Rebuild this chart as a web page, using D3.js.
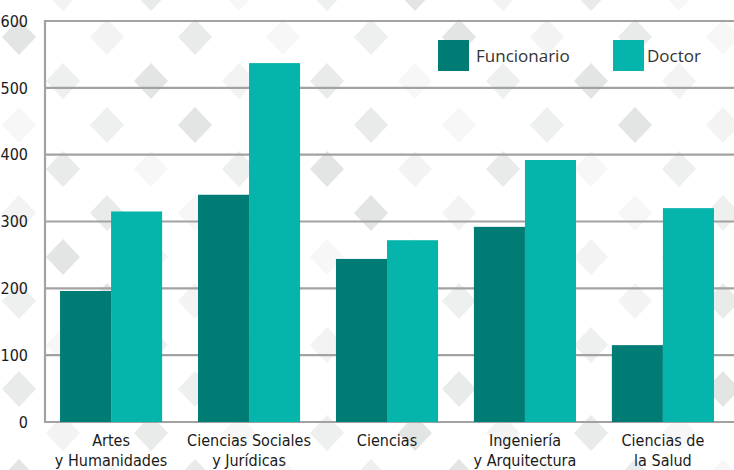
<!DOCTYPE html>
<html><head><meta charset="utf-8">
<script src="https://cdn.jsdelivr.net/npm/d3@7"></script>
<style>
html,body{margin:0;padding:0;background:#fff;}
svg{display:block;}
</style></head>
<body>
<svg id="chart" width="734" height="470"></svg>
<script>
const categories = [["Artes","y Humanidades"],["Ciencias Sociales","y Jurídicas"],["Ciencias",""],["Ingeniería","y Arquitectura"],["Ciencias de","la Salud"]];
const seriesNames = ["Funcionario","Doctor"];
const funcionario = [196, 340, 244, 292, 115];
const doctor = [315, 537, 272, 392, 320];
const yTicks = [0,100,200,300,400,500,600];

const colors = {Funcionario:"#017c75", Doctor:"#05b4aa"};
const W = 734, H = 470;
const svg = d3.select("#chart");

// decorative diamond background
const shades = ["#e3e4e4","#e9eaea","#eeefef","#f3f3f3","#f7f7f7"];
const bg = svg.append("g");
for (let k=-1;k<=10;k++){
  const yc = 37 + 44*k;
  for (let j=-1;j<=9;j++){
    const xc = 19 + 88*j + ((k%2+2)%2 ? 44 : 0);
    const s = shades[((j*3 + k*2) % 5 + 5) % 5];
    bg.append("path")
      .attr("d", `M${xc},${yc-18}L${xc+17},${yc}L${xc},${yc+18}L${xc-17},${yc}Z`)
      .attr("fill", s);
  }
}

const y = d3.scaleLinear().domain([0,600]).range([422,21]);
const x0 = d3.scaleBand().domain(d3.range(categories.length)).range([45,729]).paddingInner(0.26).paddingOuter(0.109);
const x1 = d3.scaleBand().domain(seriesNames).range([0,x0.bandwidth()]);

// gridlines
const grid = svg.append("g");
grid.selectAll("line").data(yTicks).join("line")
  .attr("x1",45).attr("x2",W)
  .attr("y1",d=>y(d)).attr("y2",d=>y(d))
  .attr("stroke","#a2a2a2").attr("stroke-width",2.2);
grid.append("line").attr("x1",45).attr("x2",45).attr("y1",y(600)-1).attr("y2",y(0)+1)
  .attr("stroke","#a2a2a2").attr("stroke-width",2.2);

// y labels
svg.append("g").selectAll("text").data(yTicks).join("text")
  .attr("x",28).attr("y",d=>y(d)).attr("dy","0.36em")
  .attr("text-anchor","end")
  .style("font-family","'Liberation Sans Narrow','DejaVu Sans Condensed',sans-serif")
  .style("font-size","16px").attr("fill","#1a1a1a")
  .text(d=>d);

// bars
const data = categories.map((c,i)=>({i, vals:[{k:"Funcionario",v:funcionario[i]},{k:"Doctor",v:doctor[i]}]}));
const groups = svg.append("g").selectAll("g").data(data).join("g")
  .attr("transform",d=>`translate(${x0(d.i)},0)`);
groups.selectAll("rect").data(d=>d.vals).join("rect")
  .attr("x",d=>x1(d.k)).attr("width",x1.bandwidth())
  .attr("y",d=>y(d.v)).attr("height",d=>y(0)-y(d.v))
  .attr("fill",d=>colors[d.k]);

// x labels
const xl = svg.append("g");
categories.forEach((c,i)=>{
  const t = xl.append("text")
    .attr("x", x0(i)+x0.bandwidth()/2).attr("y",446)
    .attr("text-anchor","middle")
    .style("font-family","'Liberation Sans Narrow','DejaVu Sans Condensed',sans-serif")
    .style("font-size","16px").attr("fill","#1a1a1a");
  t.append("tspan").attr("x",x0(i)+x0.bandwidth()/2).attr("y",446).text(c[0]);
  if (c[1]) t.append("tspan").attr("x",x0(i)+x0.bandwidth()/2).attr("y",466).text(c[1]);
});

// legend
const legX = [438, 613];
const leg = svg.append("g");
seriesNames.forEach((s,i)=>{
  leg.append("rect").attr("x",legX[i]).attr("y",40).attr("width",31).attr("height",31).attr("fill",colors[s]);
  leg.append("text").attr("x",legX[i]+(i===0?38:34)).attr("y",62)
    .style("font-family","'Open Sans','Noto Sans',sans-serif")
    .style("font-size","17px").attr("fill","#333")
    .text(s);
});
</script>
</body></html>
